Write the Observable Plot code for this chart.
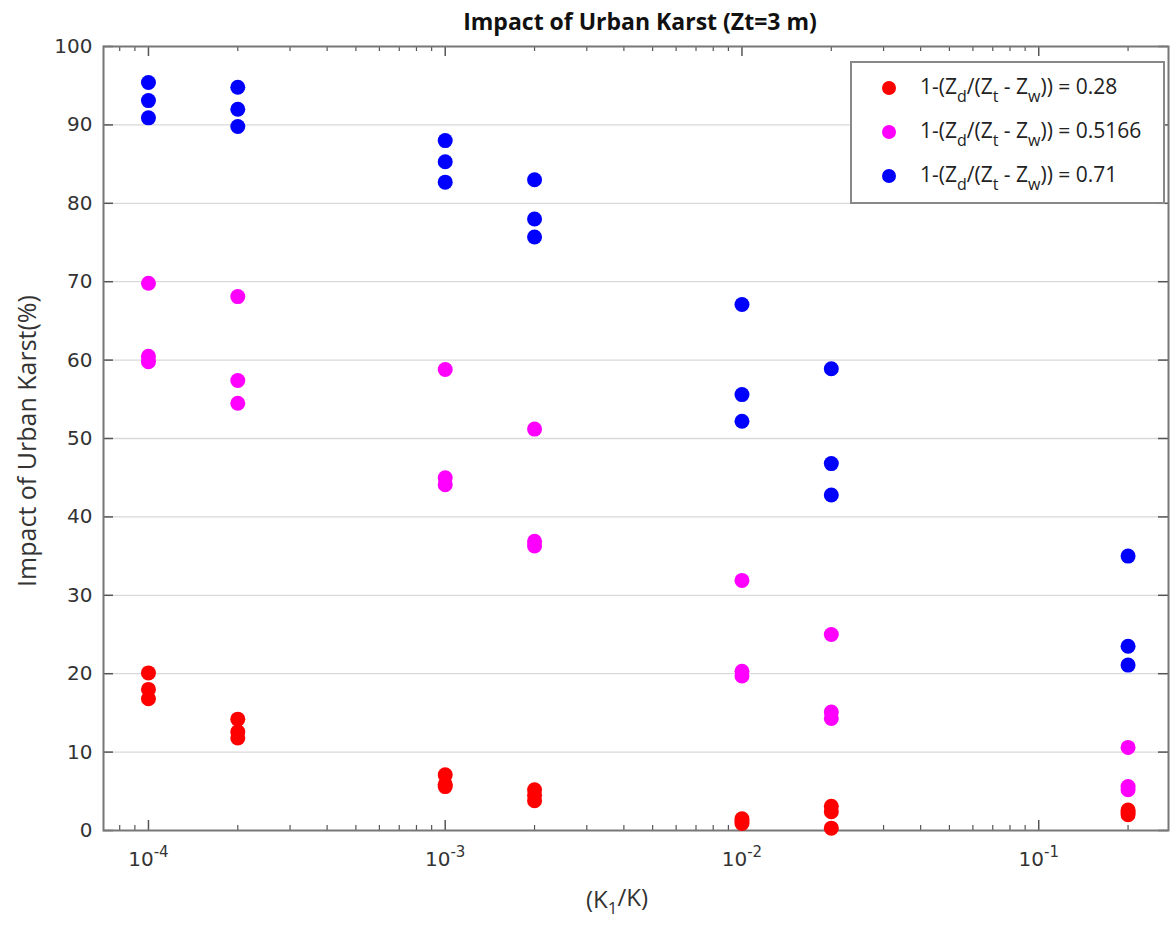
<!DOCTYPE html>
<html>
<head>
<meta charset="utf-8">
<script src="https://cdn.jsdelivr.net/npm/d3@7"></script>
<script src="https://cdn.jsdelivr.net/npm/@observablehq/plot@0.6"></script>
<style>
  html, body { margin: 0; padding: 0; background: #fff; }
  #chart { width: 1170px; height: 927px; }
</style>
</head>
<body>
<div id="chart"></div>
<script>
// ---- data ----
const ratioK = [1e-4, 2e-4, 1e-3, 2e-3, 1e-2, 2e-2, 2e-1];
const seriesRatio = ["0.28", "0.5166", "0.71"];
const seriesColors = ["#ff0000", "#ff00ff", "#0000ff"];
const impact028 = [
  [20.1, 18.0, 16.8],
  [14.2, 12.6, 11.8],
  [7.1, 5.9, 5.6],
  [5.2, 4.5, 3.8],
  [1.5, 1.2, 0.9],
  [3.1, 2.4, 0.3],
  [2.6, 2.3, 2.0]
];
const impact05166 = [
  [69.8, 60.5, 59.8],
  [68.1, 57.4, 54.5],
  [58.8, 45.0, 44.1],
  [51.2, 36.9, 36.3],
  [31.9, 20.3, 19.7],
  [25.0, 15.1, 14.3],
  [10.6, 5.6, 5.2]
];
const impact071 = [
  [95.4, 93.1, 90.9],
  [94.8, 92.0, 89.8],
  [88.0, 85.3, 82.7],
  [83.0, 78.0, 75.7],
  [67.1, 55.6, 52.2],
  [58.9, 46.8, 42.8],
  [35.0, 23.5, 21.1]
];
const yTickValues = [0, 10, 20, 30, 40, 50, 60, 70, 80, 90, 100];
const xMajorTicks = [1e-4, 1e-3, 1e-2, 1e-1];
const titleText = "Impact of Urban Karst (Zt=3 m)";
const yLabelText = "Impact of Urban Karst(%)";

// ---- build table ----
const allSeries = [impact028, impact05166, impact071];
const rows = [];
allSeries.forEach((ser, si) => {
  ser.forEach((vals, xi) => {
    vals.forEach(v => rows.push({k: ratioK[xi], impact: v, series: seriesRatio[si]}));
  });
});

const W = 1170, H = 927;
const mL = 103, mR = 2, mT = 46, mB = 97;
const innerW = W - mL - mR, innerH = H - mT - mB;

const xMinorTicks = [];
for (let e = -5; e <= -1; e++) for (let m = 2; m <= 9; m++) {
  const v = m * Math.pow(10, e);
  if (v > 7.06e-5 && v < 0.273) xMinorTicks.push(v);
}

const fontTicks = "DejaVu Sans, sans-serif";
const fontText = "Open Sans, sans-serif";

const chart = Plot.plot({
  width: W, height: H,
  marginLeft: mL, marginRight: mR, marginTop: mT, marginBottom: mB,
  style: {fontFamily: fontTicks, fontSize: "20px", color: "#333", background: "#fff"},
  x: {type: "log", domain: [7.055e-5, 0.2737]},
  y: {domain: [0, 100]},
  color: {domain: seriesRatio, range: seriesColors},
  marks: [
    Plot.gridY(yTickValues.filter(d => d > 0 && d < 100), {stroke: "#d9d9d9", strokeOpacity: 1, strokeWidth: 1.3}),
    // inward ticks
    Plot.tickX(xMajorTicks, {x: d => d, insetTop: innerH - 10, stroke: "#555", strokeWidth: 1.5}),
    Plot.tickX(xMajorTicks, {x: d => d, insetBottom: innerH - 10, stroke: "#555", strokeWidth: 1.5}),
    Plot.tickX(xMinorTicks, {x: d => d, insetTop: innerH - 5, stroke: "#555", strokeWidth: 1.2}),
    Plot.tickX(xMinorTicks, {x: d => d, insetBottom: innerH - 5, stroke: "#555", strokeWidth: 1.2}),
    Plot.tickY(yTickValues, {y: d => d, insetRight: innerW - 10, stroke: "#555", strokeWidth: 1.5}),
    Plot.tickY(yTickValues, {y: d => d, insetLeft: innerW - 10, stroke: "#555", strokeWidth: 1.5}),
    Plot.frame({stroke: "#777", strokeWidth: 2}),
    Plot.axisY(yTickValues, {tickSize: 0, tickPadding: 11, label: null, fill: "#333", fontSize: 20}),
    Plot.axisX(xMajorTicks, {tickSize: 0, tickPadding: 21, label: null, fill: "#333", fontSize: 20,
      tickFormat: d => "10^" + Math.round(Math.log10(d))}),
    Plot.dot(rows, {x: "k", y: "impact", fill: "series", r: 7.5, stroke: "none"})
  ]
});

document.getElementById("chart").appendChild(chart);
const svg = d3.select(chart);

// superscript x tick labels
svg.selectAll('g[aria-label="x-axis tick label"] text').each(function() {
  const t = d3.select(this);
  const s = t.text();
  if (s.includes("^")) {
    const [base, exp] = s.split("^");
    t.text(null);
    t.append("tspan").text(base);
    t.append("tspan").attr("dy", "-0.55em").attr("font-size", "15px").text(exp);
  }
});

// title
svg.append("text")
  .attr("x", 640).attr("y", 30)
  .attr("text-anchor", "middle")
  .attr("font-family", fontText).attr("font-weight", "bold").attr("font-size", 23)
  .attr("fill", "#111")
  .text(titleText);

// y label
svg.append("text")
  .attr("transform", "translate(36,441) rotate(-90)")
  .attr("text-anchor", "middle")
  .attr("font-family", fontText).attr("font-size", 25)
  .attr("fill", "#333")
  .text(yLabelText);

// x label (K1/K)
const xl = svg.append("text")
  .attr("x", 617).attr("y", 908)
  .attr("text-anchor", "middle")
  .attr("font-family", fontText).attr("font-size", 24)
  .attr("fill", "#333");
xl.append("tspan").text("(K");
xl.append("tspan").attr("dy", "0.35em").attr("font-size", 17).text("1");
xl.append("tspan").attr("dy", "-0.35em").text("/K)");

// legend
const lg = svg.append("g");
lg.append("rect").attr("x", 851).attr("y", 62).attr("width", 313).attr("height", 141)
  .attr("fill", "#fff").attr("stroke", "#888").attr("stroke-width", 2);
seriesRatio.forEach((r, i) => {
  const cy = 88 + i * 44;
  lg.append("circle").attr("cx", 889).attr("cy", cy).attr("r", 7).attr("fill", seriesColors[i]);
  const t = lg.append("text").attr("x", 920).attr("y", cy + 6)
    .attr("text-anchor", "start")
    .attr("font-family", fontText).attr("font-size", 21).attr("fill", "#222");
  t.append("tspan").text("1-(Z");
  t.append("tspan").attr("dy", 8).attr("font-size", 16).text("d");
  t.append("tspan").attr("dy", -8).text("/(Z");
  t.append("tspan").attr("dy", 8).attr("font-size", 16).text("t");
  t.append("tspan").attr("dy", -8).text(" - Z");
  t.append("tspan").attr("dy", 8).attr("font-size", 16).text("w");
  t.append("tspan").attr("dy", -8).text(")) = " + r);
});
</script>
</body>
</html>
